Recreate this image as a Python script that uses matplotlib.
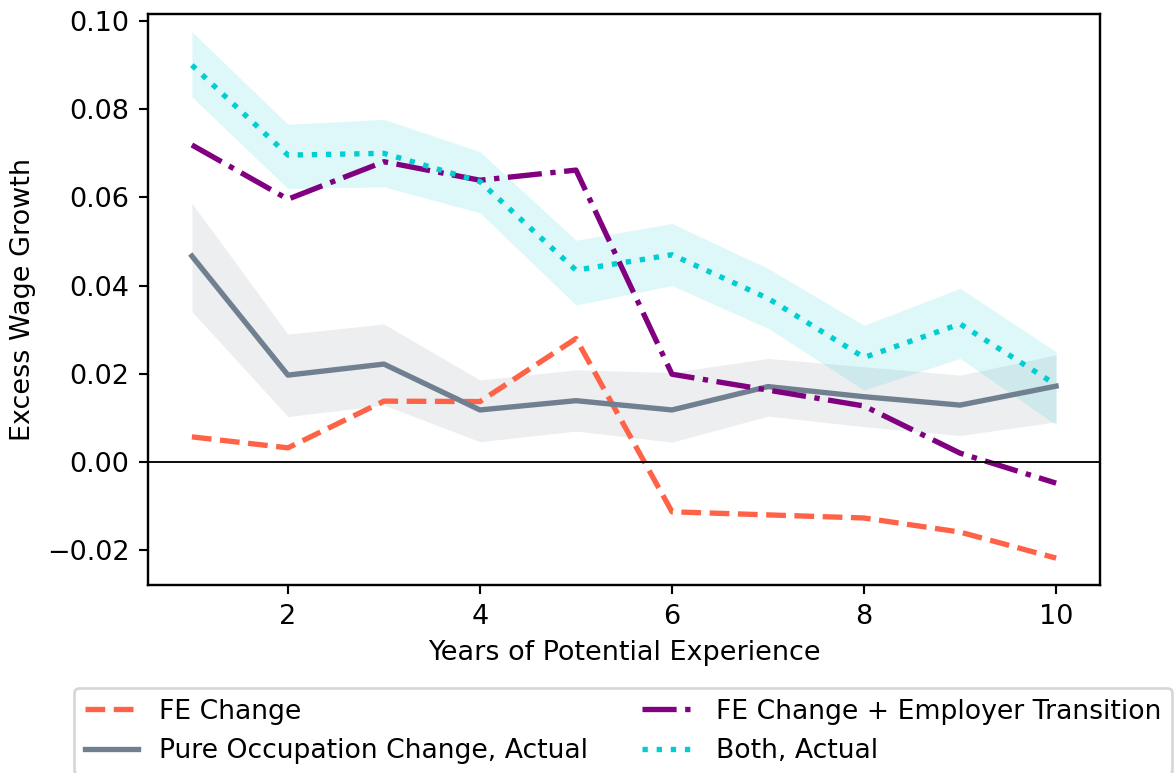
import numpy as np
import matplotlib
matplotlib.use("Agg")
import matplotlib.pyplot as plt

years = [1, 2, 3, 4, 5, 6, 7, 8, 9, 10]

fe_change = [0.0057, 0.0032, 0.0138, 0.0137, 0.0280, -0.0113, -0.0120, -0.0127, -0.0159, -0.0218]

pure_occ = [0.0467, 0.0197, 0.0222, 0.0118, 0.0139, 0.0118, 0.0171, 0.0148, 0.0129, 0.0172]
pure_occ_hi = [0.0587, 0.0290, 0.0313, 0.0186, 0.0209, 0.0203, 0.0235, 0.0216, 0.0197, 0.0243]
pure_occ_lo = [0.0341, 0.0103, 0.0129, 0.0046, 0.0070, 0.0045, 0.0104, 0.0080, 0.0060, 0.0091]

fe_employer = [0.0719, 0.0596, 0.0681, 0.0639, 0.0662, 0.0199, 0.0163, 0.0127, 0.0020, -0.0048]

both = [0.0900, 0.0696, 0.0700, 0.0636, 0.0435, 0.0470, 0.0371, 0.0237, 0.0313, 0.0175]
both_hi = [0.0976, 0.0766, 0.0777, 0.0704, 0.0503, 0.0541, 0.0439, 0.0310, 0.0394, 0.0250]
both_lo = [0.0828, 0.0620, 0.0624, 0.0565, 0.0356, 0.0400, 0.0303, 0.0163, 0.0235, 0.0084]

plt.rcParams['font.size'] = 10.15
plt.rcParams['axes.linewidth'] = 0.9

dpi = 192
fig = plt.figure(figsize=(1175 / dpi, 773 / dpi), dpi=dpi)
ax = fig.add_axes([148 / 1175, 1 - 585 / 773, (1100 - 148) / 1175, (585 - 14) / 773])

lw = 2.0
ax.plot(years, fe_change, color='tomato', linestyle='--', linewidth=lw, label='FE Change')
ax.plot(years, pure_occ, color='slategray', linestyle='-', linewidth=lw,
        label='Pure Occupation Change, Actual')
ax.fill_between(years, pure_occ_lo, pure_occ_hi, color='slategray', alpha=0.13, linewidth=0)
ax.plot(years, fe_employer, color='purple', linestyle='-.', linewidth=lw,
        label='FE Change + Employer Transition')
ax.plot(years, both, color='darkturquoise', linestyle=':', linewidth=lw, label='Both, Actual')
ax.fill_between(years, both_lo, both_hi, color='darkturquoise', alpha=0.13, linewidth=0)

ax.axhline(0, color='black', linewidth=0.7)

ax.set_xlim(0.543, 10.457)
ax.set_ylim(-0.0279, 0.1016)
ax.set_xticks([2, 4, 6, 8, 10])
ax.set_yticks([-0.02, 0.0, 0.02, 0.04, 0.06, 0.08, 0.10])
ax.set_xlabel('Years of Potential Experience')
ax.set_ylabel('Excess Wage Growth')

fig.legend(loc='upper left', bbox_to_anchor=(74 / 1175, 1 - 688 / 773), ncol=2,
           borderaxespad=0, fontsize=10)

fig.savefig('out.png', dpi=dpi)
